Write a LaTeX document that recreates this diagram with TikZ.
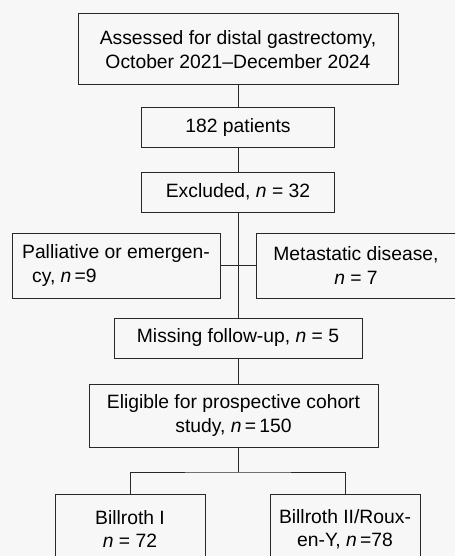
\documentclass[tikz,border=0pt]{standalone}
\usepackage{fontspec}
\setmainfont{Liberation Sans}
\usetikzlibrary{math}
\definecolor{mybg}{RGB}{247,247,247}
\definecolor{myline}{RGB}{40,40,40}

\tikzset{
  box/.style={draw=myline, line width=1.0, inner sep=0, align=center,
    font=\fontsize{19.3}{23.5}\selectfont},
  link/.style={draw=myline, line width=0.8}
}

\begin{document}
\begin{tikzpicture}[x=1pt,y=-1pt]
\tikzmath{
\W=455;
\H=556;
\cx=238;
\boxh=40;
}

\fill[mybg] (0,0) rectangle (\W,\H);
\useasboundingbox (0,0) rectangle (\W,\H);
\clip (0,0) rectangle (\W,\H);

\node[box, minimum width=320, minimum height=71] (assess) at (\cx,49.5)
  {Assessed for distal gastrectomy,\\October 2021--December 2024};
\node[box, minimum width=193, minimum height=\boxh] (patients) at (\cx,127.5) {182 patients};
\node[box, minimum width=193, minimum height=\boxh] (excluded) at (\cx,192) {Excluded, \textit{n} = 32};

\node[box, align=left, minimum width=208, minimum height=65] (pall) at (116,265.5)
  {Palliative or emergen-\\\hspace{10pt}cy, \textit{n}\,=9};
\node[box, minimum width=200, minimum height=65] (meta) at (356,265.5)
  {Metastatic disease,\\\textit{n} = 7};

\node[box, minimum width=248, minimum height=\boxh] (missing) at (\cx,338) {Missing follow-up, \textit{n} = 5};
\node[box, minimum width=289, minimum height=63] (eligible) at (233.5,415.5)
  {Eligible for prospective cohort\\study, \textit{n}\,=\,150};

\node[box, minimum width=150, minimum height=70] (bI) at (130,529) {Billroth I\\\textit{n} = 72};
\node[box, minimum width=150, minimum height=70] (bII) at (345,529)
  {Billroth II/Roux-\\en-Y, \textit{n}\,=78};

% main column
\draw[link] (assess.south) -- (assess.south |- patients.north);
\draw[link] (patients.south) -- (patients.south |- excluded.north);
\draw[link] (excluded.south) -- (excluded.south |- missing.north);
\draw[link] (pall.east) -- (meta.west);
\draw[link] (missing.south) -- (missing.south |- eligible.north);

% split
\coordinate (split) at (\cx,472);
\draw[link] (eligible.south -| split) -- (split);
\draw[link] (bI.north) |- (split) -| (bII.north);
\end{tikzpicture}
\end{document}
